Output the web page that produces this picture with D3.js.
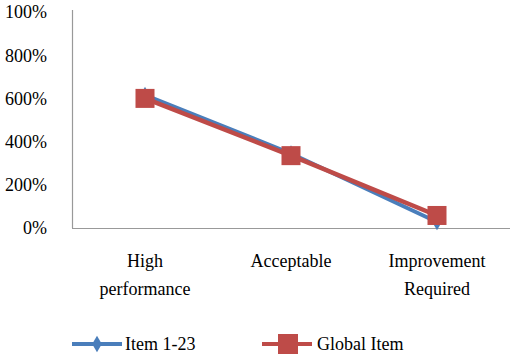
<!DOCTYPE html>
<html>
<head>
<title>Line chart</title>
<style>
  body { margin: 0; background: #fff; }
  svg text { font-family: "Times New Roman", Times, "Liberation Serif", "DejaVu Serif", "Noto Serif", serif; font-size: 18px; }
</style>
</head>
<body>
<script src="https://cdnjs.cloudflare.com/ajax/libs/d3/7.8.5/d3.min.js"></script>
<script>
var categories = [["High", "performance"], ["Acceptable"], ["Improvement", "Required"]];
var item123 = [615, 345, 28];
var globalItem = [600, 335, 58];
var tickValues = [0, 200, 400, 600, 800, 1000];
var tickLabels = ["0%", "200%", "400%", "600%", "800%", "100%"];

var width = 513,
    height = 357;

var x = d3.scaleBand()
    .domain(d3.range(categories.length))
    .range([72, 510]);

var y = d3.scaleLinear()
    .domain([0, 1000])
    .range([228, 12]);

var svg = d3.select("body").append("svg")
    .attr("width", width)
    .attr("height", height);

// y labels
svg.selectAll(".ylab")
  .data(tickValues)
  .enter().append("text")
    .attr("x", 47)
    .attr("y", function(d) { return y(d); })
    .attr("dy", ".35em")
    .attr("text-anchor", "end")
    .text(function(d, i) { return tickLabels[i]; });

// axes lines
svg.append("line")
    .attr("x1", 72.5).attr("x2", 72.5)
    .attr("y1", y(1000) - 2).attr("y2", y(0))
    .attr("stroke", "#999").attr("stroke-width", 1.2);
svg.append("line")
    .attr("x1", 72).attr("x2", 510)
    .attr("y1", y(0) + 0.5).attr("y2", y(0) + 0.5)
    .attr("stroke", "#999").attr("stroke-width", 1.2);

// category labels
var cat = svg.selectAll(".cat")
  .data(categories)
  .enter().append("text")
    .attr("text-anchor", "middle");
cat.selectAll("tspan")
  .data(function(d, i) { return d.map(function(t) { return { t: t, i: i }; }); })
  .enter().append("tspan")
    .attr("x", function(d) { return x(d.i) + x.bandwidth() / 2; })
    .attr("y", function(d, j) { return 267 + j * 28; })
    .text(function(d) { return d.t; });

var cx = function(d, i) { return x(i) + x.bandwidth() / 2; };
var line = d3.line()
    .x(cx)
    .y(function(d) { return y(d); });

var blue = "#4a7ebb", red = "#be4b48";
var diamond = d3.symbol().type(d3.symbolDiamond).size(80);

// Item 1-23
svg.append("path")
    .datum(item123)
    .attr("fill", "none")
    .attr("stroke", blue)
    .attr("stroke-width", 4)
    .attr("d", line);
svg.selectAll(".dia")
  .data(item123)
  .enter().append("path")
    .attr("transform", function(d, i) { return "translate(" + cx(d, i) + "," + y(d) + ")"; })
    .attr("d", diamond)
    .attr("fill", blue);

// Global Item
svg.append("path")
    .datum(globalItem)
    .attr("fill", "none")
    .attr("stroke", red)
    .attr("stroke-width", 4.5)
    .attr("d", line);
svg.selectAll(".sq")
  .data(globalItem)
  .enter().append("rect")
    .attr("x", function(d, i) { return cx(d, i) - 9.5; })
    .attr("y", function(d) { return y(d) - 9.5; })
    .attr("width", 19)
    .attr("height", 19)
    .attr("fill", red);

// legend
var lg = svg.append("g");
lg.append("line")
    .attr("x1", 72).attr("x2", 122).attr("y1", 344).attr("y2", 344)
    .attr("stroke", blue).attr("stroke-width", 4);
lg.append("path")
    .attr("transform", "translate(97,344)")
    .attr("d", diamond)
    .attr("fill", blue);
lg.append("text")
    .attr("x", 125).attr("y", 350)
    .text("Item 1-23");

lg.append("line")
    .attr("x1", 262).attr("x2", 312).attr("y1", 344).attr("y2", 344)
    .attr("stroke", red).attr("stroke-width", 4);
lg.append("rect")
    .attr("x", 278).attr("y", 334).attr("width", 20).attr("height", 20)
    .attr("fill", red);
lg.append("text")
    .attr("x", 317).attr("y", 350)
    .text("Global Item");
</script>
</body>
</html>
